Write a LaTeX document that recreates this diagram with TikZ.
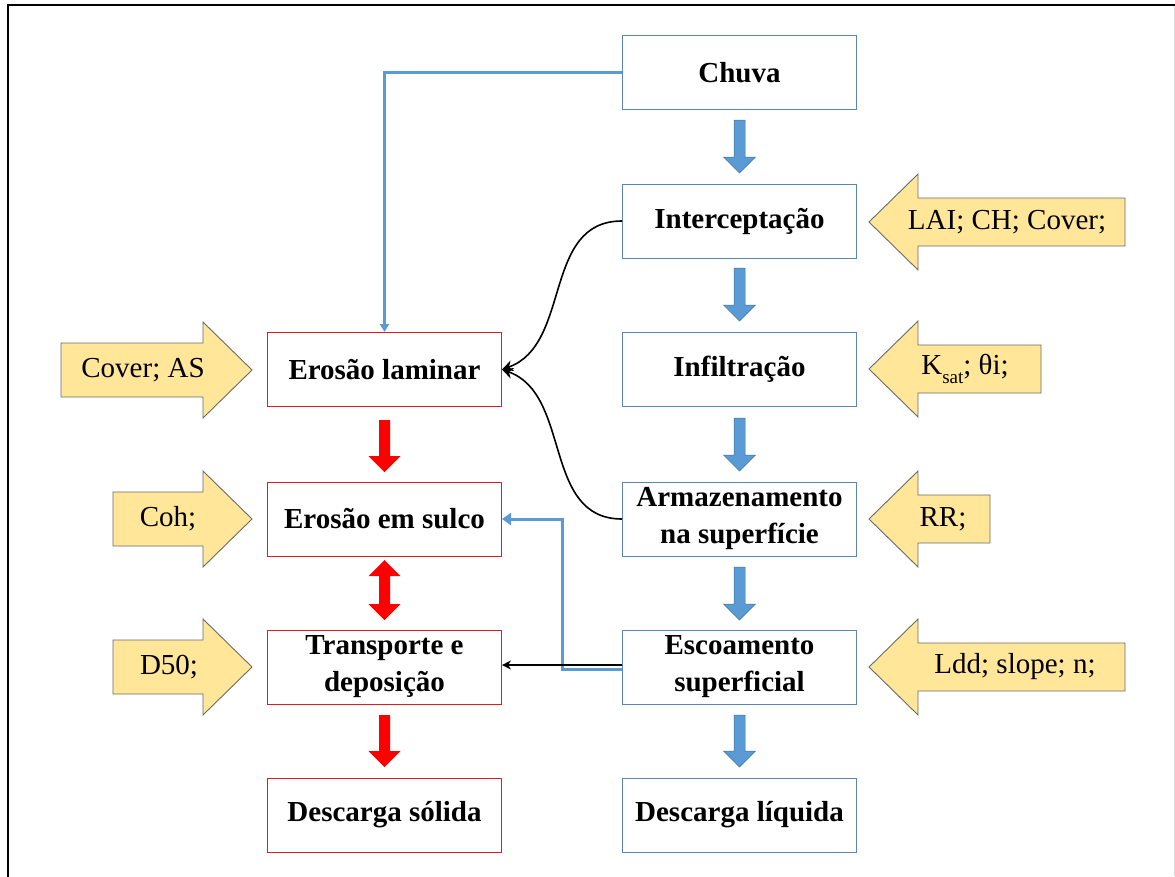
\documentclass[tikz,border=0pt]{standalone}
\usepackage{fontspec}
\setmainfont{Liberation Serif}
\usetikzlibrary{arrows.meta}
\definecolor{bboxc}{HTML}{5A86B5}
\definecolor{rboxc}{HTML}{D81E1E}
\definecolor{lblue}{HTML}{5B9BD5}
\definecolor{ayel}{HTML}{FFE699}
\definecolor{aline}{HTML}{6A6A6A}
\definecolor{barrline}{HTML}{41719C}
\newcommand\dnarrow[4]{%
 \path[#4] (#1-5.5,#2) -- (#1+5.5,#2) -- (#1+5.5,#3-16) -- (#1+16,#3-16) -- (#1,#3) -- (#1-16,#3-16) -- (#1-5.5,#3-16) -- cycle;}
\newcommand\lfarrow[3]{%
 \path[yarrow] (#1,#2) -- (#1+49,#2-48) -- (#1+49,#2-24) -- (#3,#2-24) -- (#3,#2+24) -- (#1+49,#2+24) -- (#1+49,#2+48) -- cycle;}
\newcommand\rtarrow[3]{%
 \path[yarrow] (#3,#2) -- (#3-49,#2-48) -- (#3-49,#2-27) -- (#1,#2-27) -- (#1,#2+27) -- (#3-49,#2+27) -- (#3-49,#2+48) -- cycle;}
\tikzset{
 bbox/.style={draw=bboxc, line width=1pt, fill=white, minimum width=234pt, minimum height=74pt, inner sep=0pt, align=center, font=\bfseries\fontsize{29}{36}\selectfont},
 rbox/.style={bbox, draw=rboxc},
 yarrow/.style={fill=ayel, draw=aline, line width=0.9pt},
 ytext/.style={inner sep=0pt, font=\fontsize{29}{36}\selectfont},
 bluearr/.style={fill=lblue, draw=barrline, line width=0.5pt},
 redarr/.style={fill=red},
 bconn/.style={draw=lblue, line width=3pt},
 kconn/.style={draw=black, line width=1.6pt},
}
\begin{document}
\begin{tikzpicture}[x=1pt, y=-1pt]
\useasboundingbox (0,0) rectangle (1175,876);
% frame
\draw[line width=2.4pt] (8,877) -- (8,5) -- (1176,5);
\draw[black!15, line width=1pt] (1174,6) -- (1174,876);
% blue column
\node[bbox] (chuva) at (739.5,72.5) {Chuva};
\node[bbox] (interc) at (739.5,221) {Interceptação};
\node[bbox] (infil) at (739.5,369.5) {Infiltração};
\node[bbox] (armaz) at (739.5,519) {Armazenamento\\[1pt]na superfície};
\node[bbox] (escoa) at (739.5,667) {Escoamento\\[1pt]superficial};
\node[bbox] (dliq) at (739.5,815) {Descarga líquida};
% red column
\node[rbox] (elam) at (384.5,369.5) {Erosão laminar};
\node[rbox] (esulco) at (384.5,519) {Erosão em sulco};
\node[rbox] (transp) at (384.5,667) {Transporte e\\[1pt]deposição};
\node[rbox] (dsol) at (384.5,815) {Descarga sólida};
% blue block arrows
\dnarrow{739.5}{120}{173}{bluearr}
\dnarrow{739.5}{268}{321}{bluearr}
\dnarrow{739.5}{418}{471}{bluearr}
\dnarrow{739.5}{567}{620}{bluearr}
\dnarrow{739.5}{715}{767}{bluearr}
% red block arrows
\dnarrow{384.5}{420}{472}{redarr}
\dnarrow{384.5}{715}{767}{redarr}
\path[redarr] (384.5,560) -- (400.5,576) -- (390,576) -- (390,604) -- (400.5,604) -- (384.5,620) -- (368.5,604) -- (379,604) -- (379,576) -- (368.5,576) -- cycle;
% input arrows right
\lfarrow{869}{222}{1125}
\node[ytext] (tlai) at (1007,222) {LAI; CH; Cover;};
\lfarrow{869}{369}{1041}
\node[ytext] (tksat) at (965,369) {K\raisebox{-0.32em}{\fontsize{19}{19}\selectfont sat}; θi;};
\lfarrow{869}{519}{990}
\node[ytext] (trr) at (943,519) {RR;};
\lfarrow{869}{667}{1125}
\node[ytext] (tldd) at (1015,667) {Ldd; slope; n;};
% input arrows left
\rtarrow{61}{370}{252}
\node[ytext] (tcov) at (143,370) {Cover; AS};
\rtarrow{113}{519}{252}
\node[ytext] (tcoh) at (168,519) {Coh;};
\rtarrow{113}{667}{252}
\node[ytext] (td50) at (169,667) {D50;};
% connectors
\draw[bconn, -{Triangle[length=8pt,width=9pt]}] (chuva.west) -| (elam.north);
\draw[bconn, -{Triangle[length=9pt,width=12pt]}] ([yshift=-2pt]escoa.west) -- ++(-60,0) |- (esulco.east);
\draw[kconn, -{Stealth[length=9pt,width=9pt]}] ([yshift=2pt]escoa.west) -- ([yshift=2pt]transp.east);
\draw[kconn, -{Stealth[length=11pt,width=11pt]}] (interc.west) .. controls +(-80,0) and +(70,-25) .. (elam.east);
\draw[kconn, -{Stealth[length=11pt,width=11pt]}] (armaz.west) .. controls +(-80,0) and +(70,25) .. (elam.east);
\end{tikzpicture}
\end{document}
